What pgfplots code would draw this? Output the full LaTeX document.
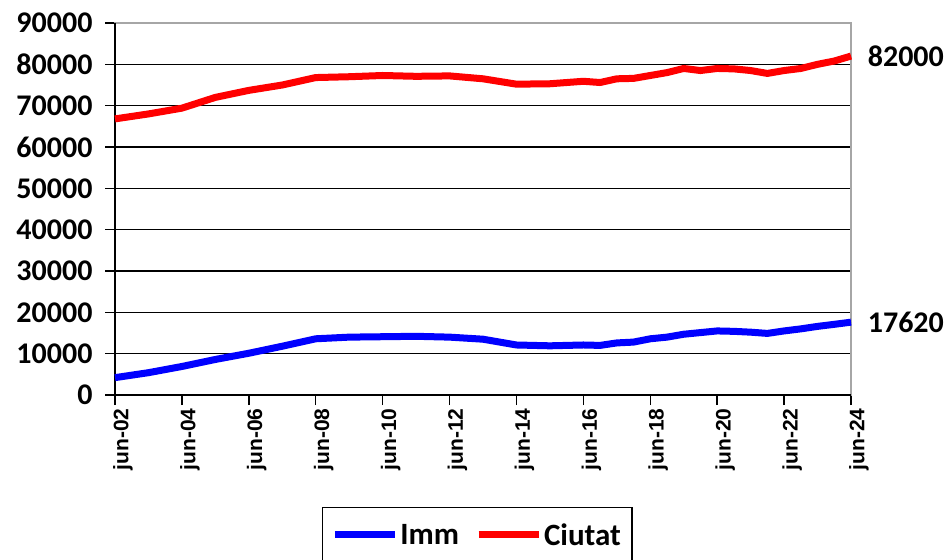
\documentclass[border=0pt]{standalone}
\usepackage{fontspec}
\setmainfont{Carlito}
\newfontfamily\arialfont{Liberation Sans}
\usepackage{pgfplots}
\pgfplotsset{compat=1.18}
\definecolor{imm}{RGB}{0,0,255}
\definecolor{ciu}{RGB}{255,0,0}
\begin{document}
\begin{tikzpicture}
\begin{axis}[
  name=ax,
  at={(0,0)}, anchor=south west,
  scale only axis,
  width=736pt, height=372pt,
  xmin=2002, xmax=2024,
  ymin=0, ymax=90000,
  xtick={2002,2004,...,2024},
  xticklabels={jun-02,jun-04,jun-06,jun-08,jun-10,jun-12,jun-14,jun-16,jun-18,jun-20,jun-22,jun-24},
  ytick={0,10000,...,90000},
  scaled y ticks=false,
  /pgf/number format/assume math mode=true,
  /pgf/number format/1000 sep={},
  yticklabel style={font=\bfseries\fontsize{30}{30}\selectfont, xshift=-9pt},
  xticklabel style={font=\arialfont\bfseries\fontsize{21}{21}\selectfont, rotate=90, anchor=east, yshift=-8pt},
  tick align=outside,
  xtick pos=bottom, ytick pos=left,
  major tick length=10pt,
  tick style={black, line width=1.5pt},
  ymajorgrids,
  grid style={black, line width=1.5pt},
  axis line style={gray!70, line width=1.5pt},
  clip=false,
  legend style={at={(0.492,-0.30)}, anchor=north, draw=black, line width=1.5pt,
    font=\bfseries\fontsize{31}{31}\selectfont, legend columns=2,
    inner xsep=9pt, inner ysep=14pt,
    /tikz/every even column/.append style={column sep=14pt}},
  legend image code/.code={\draw[#1, line width=7pt] (0pt,0pt) -- (60pt,0pt);},
]
\draw[black, line width=2pt] (rel axis cs:0,1) -- (rel axis cs:0,0) -- (rel axis cs:1,0);
\addplot[imm, line width=7pt, line join=round] coordinates {
(2002,4200) (2003,5400) (2004,6900) (2005,8600) (2006,10100) (2007,11800)
(2008,13600) (2009,14000) (2010,14100) (2011,14200) (2012,14000) (2013,13500)
(2014,12100) (2015,11900) (2016,12100) (2016.5,12000) (2017,12600) (2017.5,12800)
(2018,13600) (2018.5,14000) (2019,14700) (2019.5,15100) (2020,15500) (2020.5,15400)
(2021,15200) (2021.5,14900) (2022,15500) (2022.5,16000) (2023,16600) (2023.5,17100)
(2024,17620)
} node[pos=1, anchor=west, xshift=10pt, black, font=\bfseries\fontsize{30}{30}\selectfont] {17620};
\addlegendentry{Imm}
\addplot[ciu, line width=7pt, line join=round] coordinates {
(2002,66800) (2003,68000) (2004,69400) (2005,72000) (2006,73700) (2007,75000)
(2008,76800) (2009,77000) (2010,77300) (2011,77100) (2012,77200) (2013,76500)
(2014,75200) (2015,75300) (2016,75900) (2016.5,75600) (2017,76500) (2017.5,76600)
(2018,77300) (2018.5,78000) (2019,79000) (2019.5,78500) (2020,79000) (2020.5,78900)
(2021,78500) (2021.5,77800) (2022,78500) (2022.5,79000) (2023,80000) (2023.5,80800)
(2024,82000)
} node[pos=1, anchor=west, xshift=10pt, black, font=\bfseries\fontsize{30}{30}\selectfont] {82000};
\addlegendentry{Ciutat}
\end{axis}
\pgfresetboundingbox
\path[use as bounding box] ([shift={(-115pt,-164pt)}]ax.south west) rectangle ([shift={(101pt,23pt)}]ax.north east);
\end{tikzpicture}
\end{document}
